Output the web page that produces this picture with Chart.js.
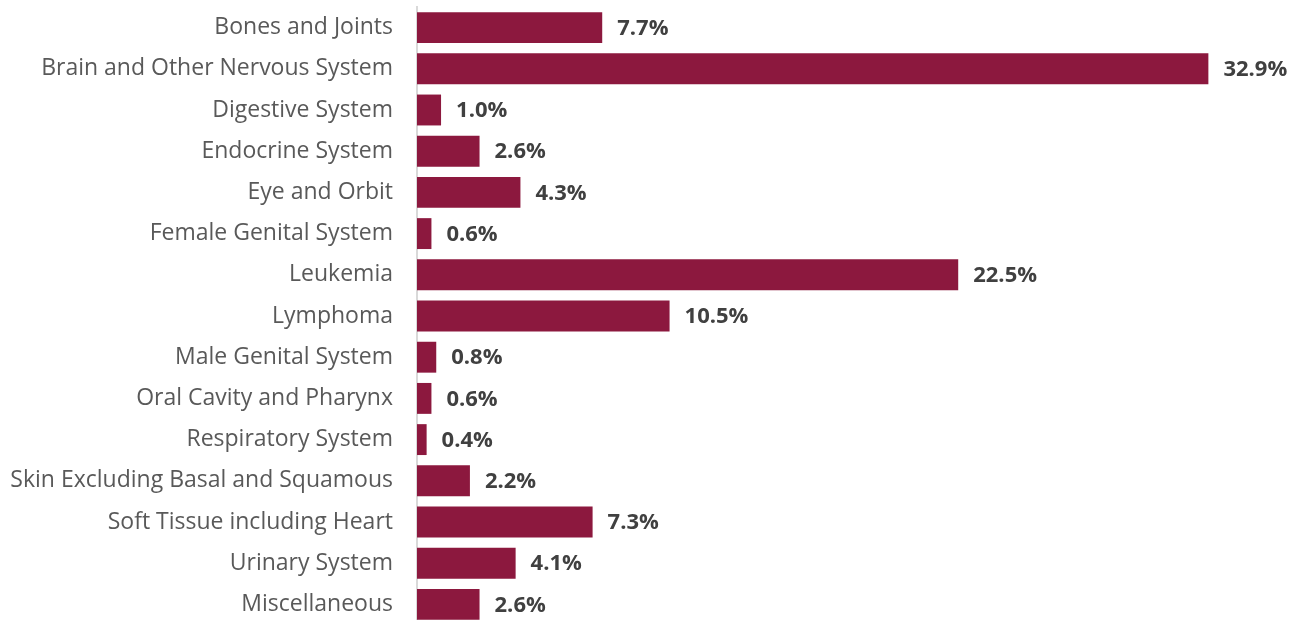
<!DOCTYPE html>
<html>
<head>
<meta charset="utf-8">
<script src="https://cdn.jsdelivr.net/npm/chart.js@4"></script>
<style>
  html, body { margin: 0; padding: 0; background: #fff; overflow: hidden; }
  canvas { display: block; }
</style>
</head>
<body>
<canvas id="c" width="1307" height="625"></canvas>
<script>
const categories = [
  "Bones and Joints",
  "Brain and Other Nervous System",
  "Digestive System",
  "Endocrine System",
  "Eye and Orbit",
  "Female Genital System",
  "Leukemia",
  "Lymphoma",
  "Male Genital System",
  "Oral Cavity and Pharynx",
  "Respiratory System",
  "Skin Excluding Basal and Squamous",
  "Soft Tissue including Heart",
  "Urinary System",
  "Miscellaneous"
];
const percentages = [7.7, 32.9, 1.0, 2.6, 4.3, 0.6, 22.5, 10.5, 0.8, 0.6, 0.4, 2.2, 7.3, 4.1, 2.6];

// Writes each bar's percentage just past the end of the bar
const valueLabels = {
  id: 'valueLabels',
  afterDatasetsDraw(chart) {
    const ctx = chart.ctx;
    const meta = chart.getDatasetMeta(0);
    ctx.save();
    ctx.font = 'bold 22px "Open Sans", sans-serif';
    ctx.fillStyle = '#404040';
    ctx.textAlign = 'left';
    ctx.textBaseline = 'middle';
    meta.data.forEach((bar, i) => {
      ctx.fillText(percentages[i].toFixed(1) + '%', bar.x + 15, bar.y + 1);
    });
    ctx.restore();
  }
};

new Chart(document.getElementById('c'), {
  type: 'bar',
  data: {
    labels: categories,
    datasets: [{
      data: percentages,
      backgroundColor: '#8C183E',
      borderWidth: 0,
      barPercentage: 0.75,
      categoryPercentage: 1.0
    }]
  },
  options: {
    indexAxis: 'y',
    responsive: false,
    animation: false,
    layout: { padding: { top: 7, bottom: 0, left: 0, right: 0 } },
    plugins: { legend: { display: false }, tooltip: { enabled: false } },
    scales: {
      x: { display: false, min: 0, max: 37 },
      y: {
        afterFit(scale) {
          scale.width = 417;
          scale.paddingTop = 0;
          scale.paddingBottom = 0;
        },
        grid: { display: false, drawTicks: false },
        border: { display: true, color: '#d9d9d9', width: 2 },
        ticks: {
          autoSkip: false,
          padding: 24,
          color: '#595959',
          font: { family: '"Open Sans", sans-serif', size: 23 }
        }
      }
    }
  },
  plugins: [valueLabels]
});
</script>
</body>
</html>
